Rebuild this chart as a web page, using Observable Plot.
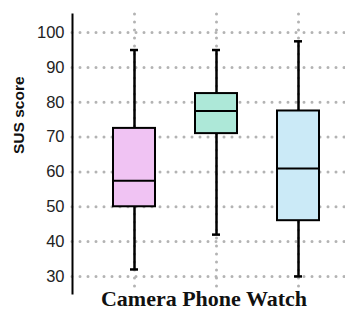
<!DOCTYPE html>
<html>
<head>
<meta charset="utf-8">
<script src="https://cdn.jsdelivr.net/npm/d3@7"></script>
<script src="https://cdn.jsdelivr.net/npm/@observablehq/plot@0.6"></script>
<style>
  html, body { margin: 0; padding: 0; background: #fff; }
</style>
</head>
<body>
<div id="chart"></div>
<script>
const categories = ["Camera", "Phone", "Watch"];
const lowers  = [32, 42, 30];
const q1s     = [50, 71, 46];
const medians = [57.5, 77.5, 61];
const q3s     = [72.5, 82.5, 77.5];
const uppers  = [95, 95, 97.5];
const fills   = ["#f0c3f3", "#ade8d8", "#cbeaf7"];
const yTicks  = [30, 40, 50, 60, 70, 80, 90, 100];
const yLabel  = "SUS score";
const xLabel  = "Camera Phone Watch";

const data = categories.map((c, i) => ({
  cat: c, lo: lowers[i], q1: q1s[i], med: medians[i], q3: q3s[i], hi: uppers[i], fill: fills[i]
}));

const dot = {stroke: "#b3b3b3", strokeWidth: 3, strokeDasharray: "0,8", strokeLinecap: "round"};

const chart = Plot.plot({
  width: 345,
  height: 311,
  marginTop: 14,
  marginBottom: 18,
  marginLeft: 72,
  marginRight: 0,
  style: {fontFamily: "Liberation Sans, Arial, sans-serif", fontSize: "16px", color: "#222"},
  x: {type: "band", domain: categories, range: [93, 339], padding: 0, axis: null},
  y: {domain: [25.1, 105.2], ticks: yTicks},
  marks: [
    Plot.ruleY(yTicks, {y: d => d, ...dot}),
    Plot.ruleX(categories, {x: d => d, ...dot}),
    Plot.axisY({ticks: yTicks, tickSize: 0, tickPadding: 8, label: null, fontSize: 16.5}),
    Plot.ruleX(data, {x: "cat", y1: "lo", y2: "q1", stroke: "#000", strokeWidth: 2.5}),
    Plot.ruleX(data, {x: "cat", y1: "q3", y2: "hi", stroke: "#000", strokeWidth: 2.5}),
    Plot.tickY(data, {x: "cat", y: "lo", stroke: "#000", strokeWidth: 2.5, insetLeft: 37, insetRight: 37}),
    Plot.tickY(data, {x: "cat", y: "hi", stroke: "#000", strokeWidth: 2.5, insetLeft: 37, insetRight: 37}),
    Plot.rectY(data, {x: "cat", y1: "q1", y2: "q3", fill: "fill", stroke: "#000", strokeWidth: 2, insetLeft: 20, insetRight: 20}),
    Plot.tickY(data, {x: "cat", y: "med", stroke: "#000", strokeWidth: 2, insetLeft: 20, insetRight: 20}),
    Plot.frame({anchor: "left", stroke: "#000", strokeWidth: 2}),
    Plot.text([yLabel], {text: d => d, frameAnchor: "left", rotate: -90, dx: -53, fontWeight: "bold", fontSize: 15.5, fill: "#111"}),
    Plot.text([xLabel], {text: d => d, frameAnchor: "bottom", dx: -5, dy: 12, fontWeight: "bold", fontSize: 22, fill: "#111", fontFamily: "Liberation Serif, Times New Roman, serif"})
  ]
});
document.getElementById("chart").appendChild(chart);
</script>
</body>
</html>
